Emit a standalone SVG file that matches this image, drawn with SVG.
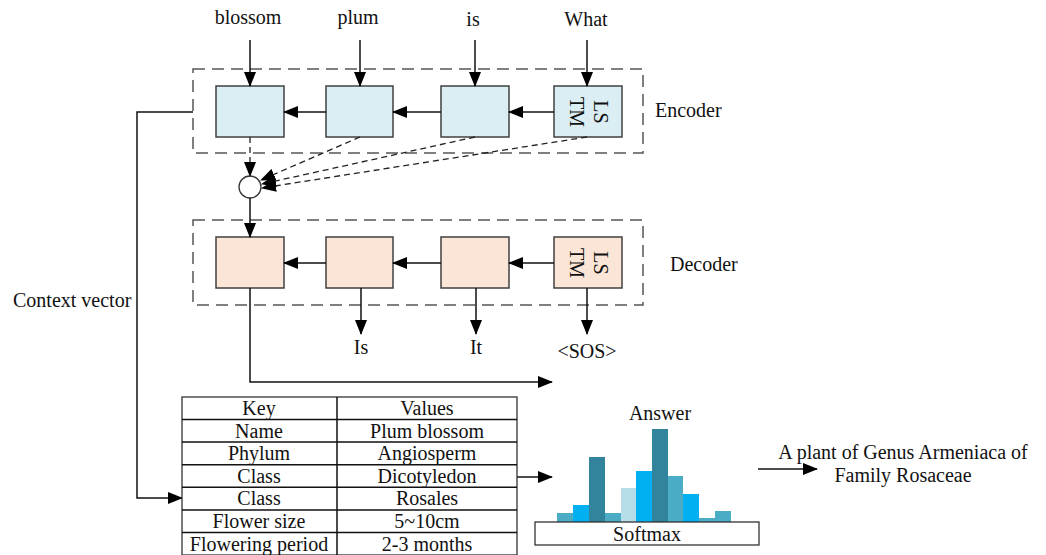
<svg xmlns="http://www.w3.org/2000/svg" width="1046" height="555" viewBox="0 0 1046 555" font-family="'Liberation Serif', 'DejaVu Serif', serif">
<defs>
<marker id="ah" markerUnits="userSpaceOnUse" markerWidth="16" markerHeight="12" refX="14" refY="6" orient="auto"><path d="M0,0 L15,6 L0,12 z" fill="#000"/></marker>
<style>
text{font-family:'Liberation Serif','DejaVu Serif',serif;font-size:20px;fill:#111}
.c{text-anchor:middle}
.enc{fill:#daeef3;stroke:#404040;stroke-width:1.5}
.dec{fill:#fbe5d6;stroke:#404040;stroke-width:1.5}
.grp{fill:none;stroke:#555;stroke-width:1.5;stroke-dasharray:12 7}
.ln{fill:none;stroke:#111;stroke-width:1.5}
.dl{fill:none;stroke:#222;stroke-width:1.3;stroke-dasharray:6 4}
.tb{fill:#fff;stroke:#333;stroke-width:1.3}
</style>
</defs>
<rect width="1046" height="555" fill="#fff"/>

<g id="encoder-group">
<rect class="grp" x="193" y="69" width="450" height="84"/>
<text x="655" y="117">Encoder</text>
</g>
<g id="decoder-group">
<rect class="grp" x="193" y="220" width="450" height="85"/>
<text x="670" y="271">Decoder</text>
</g>

<g id="enc1"><rect class="enc" x="216" y="86" width="68" height="51"/></g>
<g id="enc2"><rect class="enc" x="326" y="86" width="67" height="51"/></g>
<g id="enc3"><rect class="enc" x="441" y="86" width="68" height="51"/></g>
<g id="enc4"><rect class="enc" x="554" y="86" width="68" height="51"/>
<text class="c" transform="translate(588,112) rotate(90)" dominant-baseline="central"><tspan x="0" y="-13">LS</tspan><tspan x="0" y="11">TM</tspan></text></g>

<g id="dec1"><rect class="dec" x="216" y="237" width="68" height="51"/></g>
<g id="dec2"><rect class="dec" x="326" y="237" width="67" height="51"/></g>
<g id="dec3"><rect class="dec" x="441" y="237" width="68" height="51"/></g>
<g id="dec4"><rect class="dec" x="554" y="237" width="68" height="51"/>
<text class="c" transform="translate(588,263) rotate(90)" dominant-baseline="central"><tspan x="0" y="-13">LS</tspan><tspan x="0" y="11">TM</tspan></text></g>

<g id="attention"><circle cx="250" cy="187" r="11" fill="#fff" stroke="#333" stroke-width="1.3"/></g>

<g id="inputs">
<text class="c" x="248" y="24">blossom</text>
<text class="c" x="358" y="24">plum</text>
<text class="c" x="473" y="26">is</text>
<text class="c" x="586" y="26">What</text>
</g>
<g id="outputs">
<text class="c" x="361" y="354">Is</text>
<text class="c" x="476" y="354">It</text>
<text class="c" x="587" y="358">&lt;SOS&gt;</text>
<text x="13" y="307">Context vector</text>
</g>

<g id="connectors">
<path class="ln" d="M250,40 V86" marker-end="url(#ah)"/>
<path class="ln" d="M360,40 V86" marker-end="url(#ah)"/>
<path class="ln" d="M475,40 V86" marker-end="url(#ah)"/>
<path class="ln" d="M587,40 V86" marker-end="url(#ah)"/>
<path class="ln" d="M554,112 H509" marker-end="url(#ah)"/>
<path class="ln" d="M441,112 H393" marker-end="url(#ah)"/>
<path class="ln" d="M326,112 H284" marker-end="url(#ah)"/>
<path class="dl" d="M250,137 V176" marker-end="url(#ah)"/>
<path class="dl" d="M360,137 L261,180" marker-end="url(#ah)"/>
<path class="dl" d="M475,137 L262,184" marker-end="url(#ah)"/>
<path class="dl" d="M587,137 L262,188" marker-end="url(#ah)"/>
<path class="ln" d="M250,198 V237" marker-end="url(#ah)"/>
<path class="ln" d="M554,263 H509" marker-end="url(#ah)"/>
<path class="ln" d="M441,263 H393" marker-end="url(#ah)"/>
<path class="ln" d="M326,263 H284" marker-end="url(#ah)"/>
<path class="ln" d="M361,288 V334" marker-end="url(#ah)"/>
<path class="ln" d="M476,288 V334" marker-end="url(#ah)"/>
<path class="ln" d="M587,288 V334" marker-end="url(#ah)"/>
<path class="ln" d="M250,288 V382 H552" marker-end="url(#ah)"/>
<path class="ln" d="M193,112 H137 V498 H182" marker-end="url(#ah)"/>
<path class="ln" d="M517,477 H552" marker-end="url(#ah)"/>
<path class="ln" d="M758,469 H817" marker-end="url(#ah)"/>
</g>

<g id="kb-table">
<rect class="tb" x="182" y="397" width="335" height="158"/>
<path class="ln" stroke="#333" stroke-width="1.3" d="M337,397 V555 M182,419.6 H517 M182,442.1 H517 M182,464.7 H517 M182,487.3 H517 M182,509.9 H517 M182,532.4 H517"/>
<g class="c">
<text class="c" x="259" y="415">Key</text><text class="c" x="427" y="415">Values</text>
<text class="c" x="259" y="438">Name</text><text class="c" x="427" y="438">Plum blossom</text>
<text class="c" x="259" y="460">Phylum</text><text class="c" x="427" y="460">Angiosperm</text>
<text class="c" x="259" y="483">Class</text><text class="c" x="427" y="483">Dicotyledon</text>
<text class="c" x="259" y="505">Class</text><text class="c" x="427" y="505">Rosales</text>
<text class="c" x="259" y="528">Flower size</text><text class="c" x="427" y="528">5~10cm</text>
<text class="c" x="259" y="551">Flowering period</text><text class="c" x="427" y="551">2-3 months</text>
</g>
</g>

<g id="softmax">
<rect x="557" y="513" width="16" height="9" fill="#4bacc6"/>
<rect x="573" y="505" width="16" height="17" fill="#00b0f0"/>
<rect x="589" y="457" width="16" height="65" fill="#31849b"/>
<rect x="605" y="513" width="16" height="9" fill="#4bacc6"/>
<rect x="621" y="488" width="15" height="34" fill="#b7dee8"/>
<rect x="636" y="471" width="16" height="51" fill="#00b0f0"/>
<rect x="652" y="429" width="16" height="93" fill="#31849b"/>
<rect x="668" y="476" width="15" height="46" fill="#4bacc6"/>
<rect x="683" y="494" width="16" height="28" fill="#00b0f0"/>
<rect x="699" y="518" width="16" height="4" fill="#4bacc6"/>
<rect x="715" y="511" width="16" height="11" fill="#4bacc6"/>
<rect x="535" y="522" width="224" height="23" fill="#fff" stroke="#333" stroke-width="1.3"/>
<text class="c" x="647" y="541">Softmax</text>
<text class="c" x="660" y="420">Answer</text>
</g>

<g id="answer">
<text class="c" x="903" y="459">A plant of Genus Armeniaca of</text>
<text class="c" x="903" y="482">Family Rosaceae</text>
</g>
</svg>
